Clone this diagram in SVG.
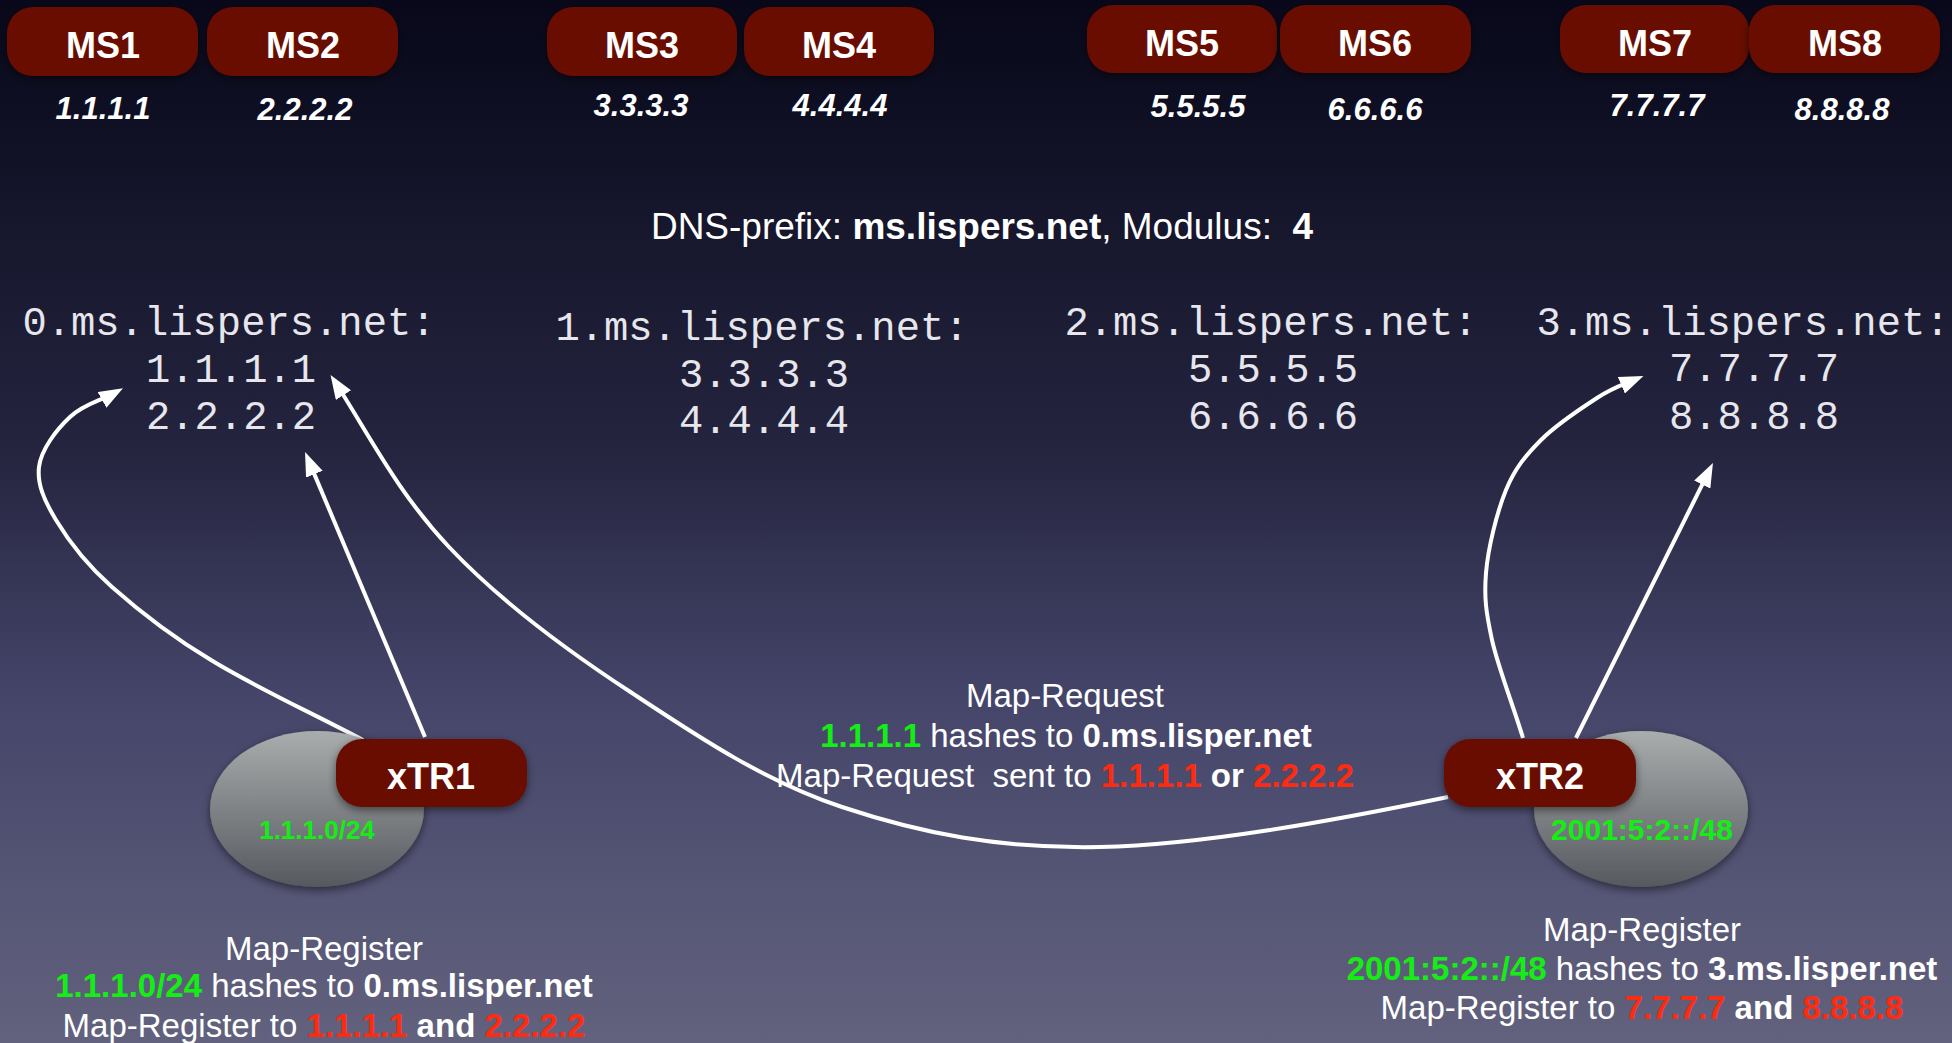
<svg xmlns="http://www.w3.org/2000/svg" width="1952" height="1043" viewBox="0 0 1952 1043">
<defs>
<linearGradient id="bg" x1="0" y1="0" x2="0" y2="1">
<stop offset="0" stop-color="#08081a"/>
<stop offset="0.43" stop-color="#24243f"/>
<stop offset="0.67" stop-color="#45456a"/>
<stop offset="1" stop-color="#62627e"/>
</linearGradient>
<linearGradient id="cloud" x1="0" y1="0" x2="0" y2="1">
<stop offset="0" stop-color="#a9adad"/>
<stop offset="1" stop-color="#56595f"/>
</linearGradient>
<filter id="sh" x="-20%" y="-20%" width="140%" height="150%">
<feDropShadow dx="0" dy="3" stdDeviation="4" flood-color="#000" flood-opacity="0.5"/>
</filter>
<marker id="arr" markerUnits="userSpaceOnUse" markerWidth="24" markerHeight="18" viewBox="0 0 24 18" refX="12" refY="9" orient="auto">
<path d="M0,0 L24,9 L0,18 z" fill="#ffffff"/>
</marker>
<style>
.box{fill:#670c03;filter:url(#sh)}
.bt{font-family:"Liberation Sans",Arial,sans-serif;font-weight:bold;font-size:36px;fill:#ffffff;text-anchor:middle}
.ip{font-family:"Liberation Sans",Arial,sans-serif;font-weight:bold;font-style:italic;font-size:31px;fill:#ffffff;text-anchor:middle}
.mono{font-family:"Liberation Mono","Courier New",monospace;font-size:40.5px;fill:#e6e6ec;text-anchor:middle}
.lt{font-family:"Liberation Sans",Arial,sans-serif;font-size:33px;fill:#ffffff;text-anchor:middle;white-space:pre}
.dns{font-family:"Liberation Sans",Arial,sans-serif;font-size:37px;fill:#ffffff;text-anchor:middle;white-space:pre}
.b{font-weight:bold}
.g{fill:#14ee14;font-weight:bold}
.r{fill:#ff2b10;font-weight:bold}
.pre{font-family:"Liberation Sans",Arial,sans-serif;font-weight:bold;font-size:26px;fill:#14ee14;text-anchor:middle}
.cl{fill:url(#cloud);filter:url(#sh)}
.con{fill:none;stroke:#ffffff;stroke-width:4;marker-end:url(#arr)}
</style>
</defs>
<rect x="0" y="0" width="1952" height="1043" fill="url(#bg)"/>

<g id="ms1"><rect class="box" x="7" y="7" width="191" height="69" rx="26"/><text class="bt" x="103" y="58">MS1</text><text class="ip" x="103" y="119">1.1.1.1</text></g>
<g id="ms2"><rect class="box" x="207" y="7" width="191" height="69" rx="26"/><text class="bt" x="303" y="58">MS2</text><text class="ip" x="305" y="120">2.2.2.2</text></g>
<g id="ms3"><rect class="box" x="547" y="7" width="190" height="69" rx="26"/><text class="bt" x="642" y="58">MS3</text><text class="ip" x="641" y="116">3.3.3.3</text></g>
<g id="ms4"><rect class="box" x="744" y="7" width="190" height="69" rx="26"/><text class="bt" x="839" y="58">MS4</text><text class="ip" x="840" y="116">4.4.4.4</text></g>
<g id="ms5"><rect class="box" x="1087" y="5" width="190" height="68" rx="26"/><text class="bt" x="1182" y="56">MS5</text><text class="ip" x="1198" y="117">5.5.5.5</text></g>
<g id="ms6"><rect class="box" x="1280" y="5" width="191" height="68" rx="26"/><text class="bt" x="1375" y="56">MS6</text><text class="ip" x="1375" y="120">6.6.6.6</text></g>
<g id="ms7"><rect class="box" x="1560" y="5" width="189" height="68" rx="26"/><text class="bt" x="1655" y="56">MS7</text><text class="ip" x="1657" y="116">7.7.7.7</text></g>
<g id="ms8"><rect class="box" x="1749" y="5" width="191" height="68" rx="26"/><text class="bt" x="1845" y="56">MS8</text><text class="ip" x="1842" y="120">8.8.8.8</text></g>

<text class="dns" x="982" y="239">DNS-prefix: <tspan class="b">ms.lispers.net</tspan>, Modulus:  <tspan class="b">4</tspan></text>

<g id="dns0"><text class="mono" x="229" y="335">0.ms.lispers.net:</text><text class="mono" x="231" y="382">1.1.1.1</text><text class="mono" x="231" y="429">2.2.2.2</text></g>
<g id="dns1"><text class="mono" x="762" y="340">1.ms.lispers.net:</text><text class="mono" x="764" y="387">3.3.3.3</text><text class="mono" x="764" y="433">4.4.4.4</text></g>
<g id="dns2"><text class="mono" x="1271" y="335">2.ms.lispers.net:</text><text class="mono" x="1273" y="382">5.5.5.5</text><text class="mono" x="1273" y="429">6.6.6.6</text></g>
<g id="dns3"><text class="mono" x="1743" y="335">3.ms.lispers.net:</text><text class="mono" x="1754" y="381">7.7.7.7</text><text class="mono" x="1754" y="429">8.8.8.8</text></g>

<g id="connectors">
<path class="con" d="M1448,797 C1332,821 1201,845 1100,847 C999,849 920,833 842,807 C764,781 697,736 632,693 C566,650 499,600 449,547 C399,494 372,440 337,385"/>
<path class="con" d="M363,740 C312,713 253,686 211,660 C169,635 138,610 112,587 C86,564 68,540 56,520 C44,500 37,484 39,467 C41,450 56,430 70,417 C84,404 100,401 112.5,394"/>
<path class="con" d="M425,737 L309.7,463.1"/>
<path class="con" d="M1523,738 C1513,705 1498,667 1492,640 C1486,612 1484,598 1486,573 C1488,548 1497,512 1506,490 C1515,468 1526,455 1541,440 C1556,425 1580,409 1597,398 C1612,388 1622,385 1632.4,380.6"/>
<path class="con" d="M1576,738 L1707.6,473.8"/>
</g>

<g id="xtr1">
<ellipse class="cl" cx="317" cy="809" rx="107" ry="78"/>
<text class="pre" x="317" y="839">1.1.1.0/24</text>
<rect class="box" x="336" y="739" width="191" height="68" rx="26"/>
<text class="bt" x="431" y="789">xTR1</text>
</g>
<g id="xtr2">
<ellipse class="cl" cx="1641" cy="809" rx="107" ry="78"/>
<text class="pre" x="1642" y="840" style="font-size:30px">2001:5:2::/48</text>
<rect class="box" x="1444" y="739" width="192" height="68" rx="26"/>
<text class="bt" x="1540" y="789">xTR2</text>
</g>

<g id="label-request">
<text class="lt" x="1065" y="707">Map-Request</text>
<text class="lt" x="1066" y="747"><tspan class="g">1.1.1.1</tspan> hashes to <tspan class="b">0.ms.lisper.net</tspan></text>
<text class="lt" x="1065" y="787">Map-Request  sent to <tspan class="r">1.1.1.1</tspan><tspan class="b"> or </tspan><tspan class="r">2.2.2.2</tspan></text>
</g>
<g id="label-register1">
<text class="lt" x="324" y="960">Map-Register</text>
<text class="lt" x="324" y="997"><tspan class="g">1.1.1.0/24</tspan> hashes to <tspan class="b">0.ms.lisper.net</tspan></text>
<text class="lt" x="324" y="1037">Map-Register to <tspan class="r">1.1.1.1</tspan><tspan class="b"> and </tspan><tspan class="r">2.2.2.2</tspan></text>
</g>
<g id="label-register2">
<text class="lt" x="1642" y="941">Map-Register</text>
<text class="lt" x="1642" y="980"><tspan class="g">2001:5:2::/48</tspan> hashes to <tspan class="b">3.ms.lisper.net</tspan></text>
<text class="lt" x="1642" y="1019">Map-Register to <tspan class="r">7.7.7.7</tspan><tspan class="b"> and </tspan><tspan class="r">8.8.8.8</tspan></text>
</g>
</svg>
